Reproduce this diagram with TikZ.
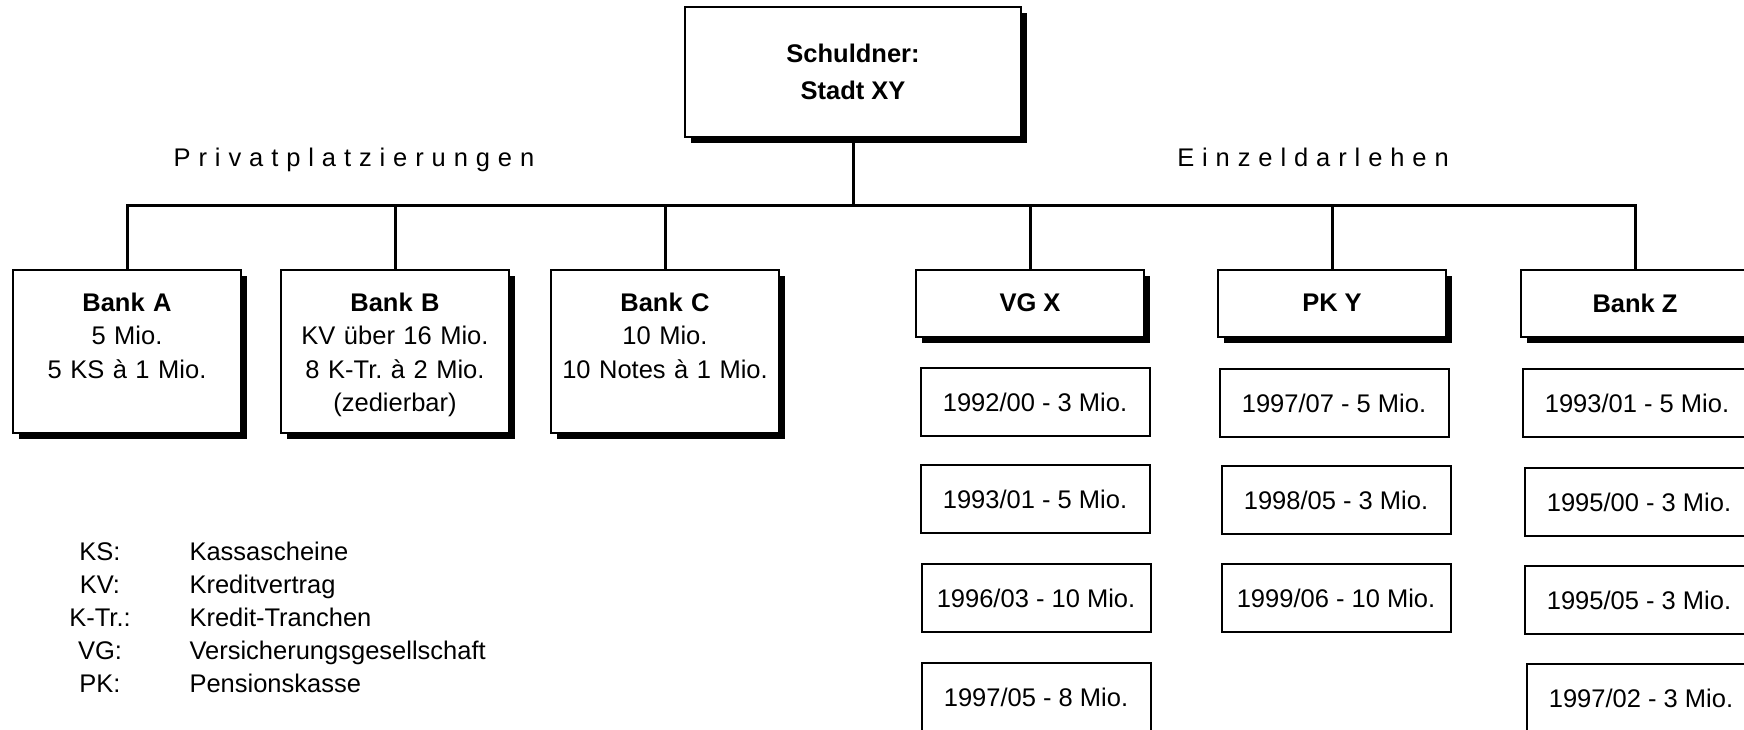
\documentclass[tikz,border=0pt]{standalone}
\usepackage{fontspec}
\setmainfont{Liberation Sans}
\usetikzlibrary{shadows}

\begin{document}
\begin{tikzpicture}[x=0.4pt, y=-0.4pt,
    font=\fontsize{10.2}{13.4}\selectfont\frenchspacing,
    box/.style={draw, fill=white, line width=0.8pt, inner sep=0pt,
      general shadow={fill=black, shadow xshift=2.4pt, shadow yshift=-2.4pt}},
    bank/.style={box, text width=91.2pt, align=center, text height=16.4pt, text depth=48.8pt},
    head/.style={box, minimum width=91.2pt, minimum height=26.8pt},
    loan/.style={draw, line width=0.8pt, minimum width=91.6pt, minimum height=27.2pt, inner sep=0pt},
    link/.style={line width=1.2pt}]
	\useasboundingbox (0,0) rectangle (1744,729);

	\node[box, minimum width=134.4pt, minimum height=52pt, align=center] (schuldner) at (853,72) {\textbf{Schuldner:}\\[1.4pt]\textbf{Stadt XY}};
	\node[anchor=base] (privat) at (354,166) {\spaceskip=0.31em P r i v a t p l a t z i e r u n g e n};
	\node[anchor=base] (einzel) at (1313,166) {\spaceskip=0.31em E i n z e l d a r l e h e n};

	% Privatplatzierungen
	\node[bank] (bankA) at (127,351.5) {\textbf{Bank A}\\5 Mio.\\5 KS à 1 Mio.};
	\node[bank] (bankB) at (395,351.5) {\textbf{Bank B}\\KV über 16 Mio.\\8 K-Tr. à 2 Mio.\\(zedierbar)};
	\node[bank] (bankC) at (665,351.5) {\textbf{Bank C}\\10 Mio.\\10 Notes à 1 Mio.};

	% Einzeldarlehen
	\node[head] (vgx) at (1030,303) {\textbf{VG X}};
	\node[head] (pky) at (1332,303) {\textbf{PK Y}};
	\node[head] (bankZ) at (1635,303) {\textbf{Bank Z}};

	\node[loan] (vg1) at (1035,402) {1992/00 - 3 Mio.};
	\node[loan] (vg2) at (1035,499) {1993/01 - 5 Mio.};
	\node[loan] (vg3) at (1036,598) {1996/03 - 10 Mio.};
	\node[loan] (vg4) at (1036,697) {1997/05 - 8 Mio.};

	\node[loan] (pk1) at (1334,403) {1997/07 - 5 Mio.};
	\node[loan] (pk2) at (1336,500) {1998/05 - 3 Mio.};
	\node[loan] (pk3) at (1336,598) {1999/06 - 10 Mio.};

	\node[loan] (bz1) at (1637,403) {1993/01 - 5 Mio.};
	\node[loan] (bz2) at (1639,502) {1995/00 - 3 Mio.};
	\node[loan] (bz3) at (1639,600) {1995/05 - 3 Mio.};
	\node[loan] (bz4) at (1641,698) {1997/02 - 3 Mio.};

	% Verbindungen
	\coordinate (bus) at (853,205);
	\draw[link] (schuldner.south) -- (bus);
	\draw[link] (bankA.north) |- (bankZ.north |- bus) -- (bankZ.north);
	\foreach \n in {bankB, bankC, vgx, pky}
		\draw[link] (\n.north) -- (\n.north |- bus);

	% Legende
	\foreach \k/\d [count=\i] in {KS:/Kassascheine, KV:/Kreditvertrag, K-Tr.:/Kredit-Tranchen, VG:/Versicherungsgesellschaft, PK:/Pensionskasse} {
		\node[anchor=base] (abk\i) at (100,527+33*\i) {\k};
		\node[anchor=base west, inner xsep=0pt] (erkl\i) at (189,527+33*\i) {\d};
	}
\end{tikzpicture}
\end{document}
